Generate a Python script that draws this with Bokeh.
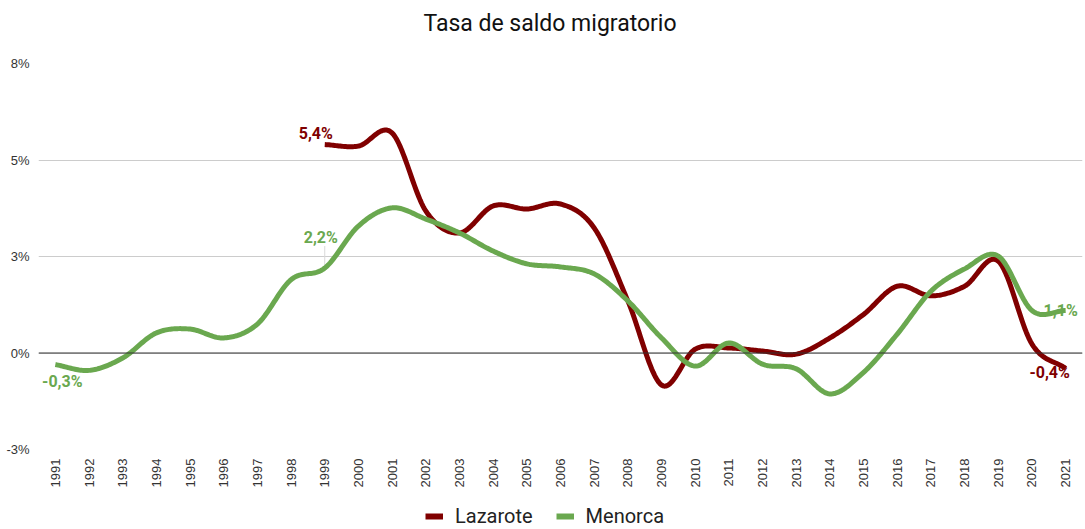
import math
import numpy as np
from bokeh.plotting import figure
from bokeh.layouts import column
from bokeh.models import (FixedTicker, Legend, LegendItem, Label, Span, Range1d, Div)
from bokeh.embed import file_html
from bokeh.resources import INLINE

# ---------------- data ----------------
title_text = "Tasa de saldo migratorio"
series_names = ["Lazarote", "Menorca"]

years_menorca = list(range(1991, 2022))
menorca = [-0.3, -0.45, -0.13, 0.52, 0.62, 0.39, 0.75, 1.9, 2.2, 3.29,
           3.76, 3.47, 3.11, 2.64, 2.31, 2.23, 2.05, 1.35, 0.39, -0.34,
           0.26, -0.29, -0.41, -1.06, -0.5, 0.49, 1.6, 2.18, 2.51, 1.1, 1.1]

years_lazarote = list(range(1999, 2022))
lazarote = [5.4, 5.36, 5.7, 3.68, 3.11, 3.81, 3.73, 3.86, 3.24, 1.35,
            -0.83, 0.1, 0.13, 0.05, -0.03, 0.39, 1.0, 1.73, 1.48, 1.73,
            2.38, 0.23, -0.4]

x_ticks = list(range(1991, 2022))
y_ticks = [-2.5, 0, 2.5, 5, 7.5]
y_tick_labels = ["-3%", "0%", "3%", "5%", "8%"]

RED = "#800000"
GREEN = "#6aa84f"
W = 1084
FRAME_H = 386
Y_SPAN = 10.0


def smooth(xs, ys, n=24):
    """Catmull-Rom style cubic Hermite curve through the given points (rendering only)."""
    xs = np.asarray(xs, float)
    ys = np.asarray(ys, float)
    k = len(xs)
    m = np.zeros(k)
    for i in range(k):
        if i == 0:
            m[i] = (ys[1] - ys[0]) / (xs[1] - xs[0])
        elif i == k - 1:
            m[i] = (ys[-1] - ys[-2]) / (xs[-1] - xs[-2])
        else:
            m[i] = (ys[i + 1] - ys[i - 1]) / (xs[i + 1] - xs[i - 1])
    ox, oy = [], []
    for i in range(k - 1):
        h = xs[i + 1] - xs[i]
        t = np.linspace(0, 1, n, endpoint=(i == k - 2))
        h00 = 2 * t**3 - 3 * t**2 + 1
        h10 = t**3 - 2 * t**2 + t
        h01 = -2 * t**3 + 3 * t**2
        h11 = t**3 - t**2
        ox.extend((xs[i] + t * h).tolist())
        oy.extend((h00 * ys[i] + h10 * h * m[i] + h01 * ys[i + 1] + h11 * h * m[i + 1]).tolist())
    return ox, oy


def fmt(v):
    return f"{v:.1f}".replace(".", ",") + "%"


# ---------------- title ----------------
title = Div(text=title_text, width=W, height=45, margin=(0, 0, 0, 0),
            styles={"font-family": "Roboto", "font-size": "23px", "color": "#111111",
                    "text-align": "center", "line-height": "47px",
                    "padding-left": "16px", "box-sizing": "border-box"})

# ---------------- main chart ----------------
p = figure(width=W, height=460, output_backend="svg", toolbar_location=None,
           x_range=Range1d(1990.5, 2021.5), y_range=Range1d(-2.5, 7.5),
           min_border_left=38, min_border_right=2, min_border_top=18,
           min_border_bottom=56, margin=(0, 0, 0, 0))
p.outline_line_color = None
p.background_fill_color = "white"
p.border_fill_color = "white"

p.xgrid.grid_line_color = None
p.ygrid.grid_line_color = "#cccccc"
p.ygrid.grid_line_width = 1

p.yaxis.ticker = FixedTicker(ticks=y_ticks)
p.yaxis.major_label_overrides = {t: l for t, l in zip(y_ticks, y_tick_labels)}
p.xaxis.ticker = FixedTicker(ticks=x_ticks)
p.xaxis.major_label_orientation = math.pi / 2
for ax in (p.xaxis, p.yaxis):
    ax.axis_line_color = None
    ax.major_tick_line_color = None
    ax.minor_tick_line_color = None
    ax.major_tick_out = 0
    ax.major_tick_in = 0
    ax.minor_tick_out = 0
    ax.minor_tick_in = 0
    ax.major_label_text_font = "Liberation Sans"
    ax.major_label_text_font_size = "13px"
    ax.major_label_text_color = "#333333"
    ax.major_label_standoff = 9

p.add_layout(Span(location=0, dimension="width", line_color="#333333", line_width=1))

# leader line of the 1999 Menorca label
i99 = years_menorca.index(1999)
p.segment(x0=[years_menorca[i99]], y0=[menorca[i99]], x1=[years_menorca[i99]],
          y1=[menorca[i99] + 22 * Y_SPAN / FRAME_H], line_color="#d9d9d9", line_width=1)

lx, ly = smooth(years_lazarote, lazarote)
mx, my = smooth(years_menorca, menorca)
p.line(lx, ly, line_color=RED, line_width=5, line_join="round")
p.line(mx, my, line_color=GREEN, line_width=5, line_join="round")

lab_style = dict(text_font="Roboto", text_font_style="bold", text_font_size="16px",
                 text_align="center", text_baseline="middle")
p.add_layout(Label(x=years_lazarote[0], y=lazarote[0], text=fmt(lazarote[0]),
                   x_offset=-9, y_offset=11, text_color=RED, **lab_style))
p.add_layout(Label(x=years_lazarote[-1], y=lazarote[-1], text=fmt(lazarote[-1]),
                   x_offset=-16, y_offset=-4, text_color=RED, **lab_style))
p.add_layout(Label(x=years_menorca[0], y=menorca[0], text=fmt(menorca[0]),
                   x_offset=7, y_offset=-17, text_color=GREEN, **lab_style))
p.add_layout(Label(x=years_menorca[i99], y=menorca[i99], text=fmt(menorca[i99]),
                   x_offset=-4, y_offset=31, text_color=GREEN, **lab_style))
p.add_layout(Label(x=years_menorca[-1], y=menorca[-1], text=fmt(menorca[-1]),
                   x_offset=-5, y_offset=0, text_color=GREEN, **lab_style))

# ---------------- legend strip ----------------
lg = figure(width=W, height=23, output_backend="svg", toolbar_location=None,
            x_axis_type=None, y_axis_type=None, min_border=0,
            min_border_left=0, min_border_right=0, min_border_top=0,
            min_border_bottom=0, margin=(0, 0, 0, 0),
            x_range=Range1d(0, 1), y_range=Range1d(0, 1))
lg.outline_line_color = None
lg.grid.visible = False
# swatch renderers kept outside the visible range; only their legend glyphs show
g_l = lg.line(x=[5, 6], y=[5, 6], line_color=RED, line_width=6)
g_m = lg.line(x=[5, 6], y=[5, 6], line_color=GREEN, line_width=6)
legend = Legend(items=[LegendItem(label=series_names[0], renderers=[g_l]),
                       LegendItem(label=series_names[1], renderers=[g_m])],
                orientation="horizontal", location=(387, 0),
                label_text_font="Roboto", label_text_font_size="20px",
                label_text_color="#222222", glyph_width=18, glyph_height=20,
                label_height=20, label_standoff=12, spacing=23, padding=0, margin=0,
                border_line_color=None, background_fill_alpha=0)
lg.add_layout(legend, "center")

layout = column(title, p, lg, spacing=0)
open("out.html", "w").write(file_html(layout, INLINE))
